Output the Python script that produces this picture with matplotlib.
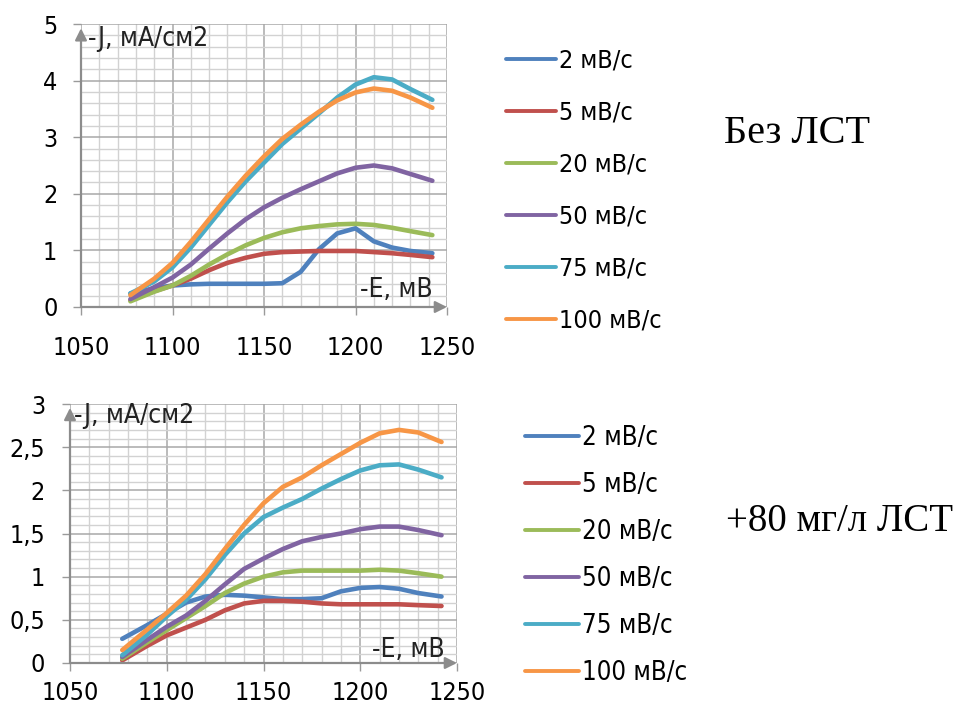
import matplotlib
matplotlib.use('Agg')
from matplotlib import pyplot as plt
from matplotlib import font_manager as fm
from matplotlib.ticker import MultipleLocator, FuncFormatter

# a narrow sans if there is one, else a plain sans at a smaller size
narrow = None
for fam, st in [('Liberation Sans Narrow', 'normal'), ('DejaVu Sans', 'condensed')]:
    try:
        path = fm.findfont(fm.FontProperties(family=fam, stretch=st), fallback_to_default=False)
    except ValueError:
        continue
    if 'Narrow' in path or 'Condensed' in path:
        narrow = (fam, st)
        break
if narrow:
    plt.rcParams['font.family'] = [narrow[0], 'DejaVu Sans']
    plt.rcParams['font.stretch'] = narrow[1]
    fs = 18
else:
    plt.rcParams['font.family'] = ['Roboto', 'DejaVu Sans']
    fs = 15.5

# -E, mV (same grid for both charts)
potential = [1077, 1090, 1100, 1110, 1120, 1130, 1140, 1150, 1160,
             1170, 1180, 1190, 1200, 1210, 1220, 1230, 1242]

rates = ['2 мВ/с', '5 мВ/с', '20 мВ/с', '50 мВ/с', '75 мВ/с', '100 мВ/с']
colors = ['#4f81bd', '#c0504d', '#9bbb59', '#8064a2', '#4bacc6', '#f79646']

# without LST, -J mA/cm2
top_2 = [0.24, 0.33, 0.38, 0.40, 0.41, 0.41, 0.41, 0.41, 0.42,
         0.62, 1.02, 1.30, 1.39, 1.16, 1.05, 0.99, 0.95]
top_5 = [0.12, 0.28, 0.38, 0.50, 0.65, 0.78, 0.87, 0.94, 0.97,
         0.98, 0.99, 0.99, 0.99, 0.97, 0.95, 0.92, 0.88]
top_20 = [0.10, 0.27, 0.38, 0.55, 0.75, 0.93, 1.09, 1.22, 1.32,
          1.39, 1.43, 1.46, 1.47, 1.45, 1.40, 1.34, 1.27]
top_50 = [0.14, 0.35, 0.52, 0.75, 1.03, 1.30, 1.55, 1.76, 1.93,
          2.08, 2.22, 2.36, 2.46, 2.50, 2.45, 2.35, 2.23]
top_75 = [0.24, 0.45, 0.70, 1.05, 1.45, 1.85, 2.22, 2.55, 2.88,
          3.15, 3.42, 3.70, 3.93, 4.06, 4.02, 3.85, 3.66]
top_100 = [0.21, 0.50, 0.78, 1.15, 1.55, 1.95, 2.32, 2.66, 2.97,
           3.22, 3.45, 3.65, 3.79, 3.86, 3.82, 3.70, 3.52]

# +80 mg/l LST
bot_2 = [0.28, 0.44, 0.57, 0.70, 0.77, 0.79, 0.78, 0.76, 0.74,
         0.74, 0.75, 0.83, 0.87, 0.88, 0.86, 0.81, 0.77]
bot_5 = [0.03, 0.20, 0.32, 0.41, 0.50, 0.61, 0.69, 0.72, 0.72,
         0.71, 0.69, 0.68, 0.68, 0.68, 0.68, 0.67, 0.66]
bot_20 = [0.05, 0.24, 0.38, 0.52, 0.66, 0.81, 0.92, 1.00, 1.05,
          1.07, 1.07, 1.07, 1.07, 1.08, 1.07, 1.04, 1.00]
bot_50 = [0.07, 0.27, 0.42, 0.55, 0.72, 0.91, 1.09, 1.21, 1.32,
          1.41, 1.46, 1.50, 1.55, 1.58, 1.58, 1.54, 1.48]
bot_75 = [0.09, 0.33, 0.54, 0.73, 0.97, 1.25, 1.50, 1.69, 1.80,
          1.90, 2.02, 2.13, 2.23, 2.29, 2.30, 2.24, 2.15]
bot_100 = [0.15, 0.39, 0.58, 0.78, 1.03, 1.32, 1.60, 1.85, 2.04,
           2.15, 2.29, 2.42, 2.55, 2.66, 2.70, 2.67, 2.56]

top_series = [top_2, top_5, top_20, top_50, top_75, top_100]
bot_series = [bot_2, bot_5, bot_20, bot_50, bot_75, bot_100]


def setup_axes(ax, ymax, ymajor, yminor, ylabel_xy, xlabel_xy, ypad, xpad):
    ax.set_xlim(1050, 1250)
    ax.set_ylim(0, ymax)
    ax.xaxis.set_major_locator(MultipleLocator(50))
    ax.xaxis.set_minor_locator(MultipleLocator(10))
    ax.yaxis.set_major_locator(MultipleLocator(ymajor))
    ax.yaxis.set_minor_locator(MultipleLocator(yminor))
    ax.yaxis.set_major_formatter(FuncFormatter(lambda v, p: f'{v:g}'.replace('.', ',')))
    ax.grid(which='major', color='#a8a8a8', lw=1.1)
    ax.grid(which='minor', color='#d2d2d2', lw=1.0)
    ax.set_axisbelow(True)
    for s in ['top', 'right', 'left', 'bottom']:
        ax.spines[s].set_visible(False)
    ax.tick_params(which='major', length=6, width=1, color='#9a9a9a', labelsize=fs)
    ax.tick_params(which='minor', length=0)
    ax.tick_params(axis='y', pad=ypad)
    ax.tick_params(axis='x', pad=xpad)
    arrow = dict(arrowstyle='-|>,head_length=0.7,head_width=0.35', color='#8c8c8c', lw=1.6,
                 shrinkA=0, shrinkB=0)
    ax.annotate('', xy=(0, 0.985), xytext=(0, 0), xycoords='axes fraction',
                arrowprops=arrow, annotation_clip=False)
    ax.annotate('', xy=(1, 0), xytext=(0, 0), xycoords='axes fraction',
                arrowprops=arrow, annotation_clip=False)
    ax.text(*ylabel_xy, '-J, мА/см2', transform=ax.transAxes, fontsize=fs + 1,
            ha='left', va='baseline', color='#222222')
    ax.text(*xlabel_xy, '-E, мВ', transform=ax.transAxes, fontsize=fs + 1,
            ha='right', va='baseline', color='#222222')


fig = plt.figure(figsize=(9.57, 7.09), dpi=100)

ax1 = fig.add_axes([81 / 957, 1 - 307 / 709, 366 / 957, 283 / 709])
for vals, lab, c in zip(top_series, rates, colors):
    ax1.plot(potential, vals, color=c, lw=3.3, label=lab, solid_capstyle='round',
             solid_joinstyle='round')
setup_axes(ax1, 5, 1, 0.2, (0.018, 0.922), (0.962, 0.035), 11, 15)

ax2 = fig.add_axes([70 / 957, 1 - 663 / 709, 387 / 957, 259 / 709])
for vals, lab, c in zip(bot_series, rates, colors):
    ax2.plot(potential, vals, color=c, lw=3.3, label=lab, solid_capstyle='round',
             solid_joinstyle='round')
setup_axes(ax2, 3, 0.5, 0.1, (0.01, 0.927), (0.969, 0.023), 12, 7)

leg1 = fig.legend(*ax1.get_legend_handles_labels(), loc='upper left',
                  bbox_to_anchor=(506 / 957, 1 - 49 / 709), frameon=False,
                  fontsize=fs, handlelength=2.0, handletextpad=0.12,
                  labelspacing=1.12, borderpad=0, borderaxespad=0)
leg2 = fig.legend(*ax2.get_legend_handles_labels(), loc='upper left',
                  bbox_to_anchor=(525 / 957, 1 - 425 / 709), frameon=False,
                  fontsize=fs + 0.5, handlelength=2.1, handletextpad=0.12,
                  labelspacing=0.82, borderpad=0, borderaxespad=0)
for leg in (leg1, leg2):
    for h in leg.legend_handles:
        h.set_linewidth(2.8)

fig.text(724 / 957, 1 - 143 / 709, 'Без ЛСТ', family='Liberation Serif',
         fontsize=29, ha='left', va='baseline')
fig.text(726 / 957, 1 - 531 / 709, '+80 мг/л ЛСТ', family='Liberation Serif',
         fontsize=28, ha='left', va='baseline')

fig.savefig('out.png', dpi=100)
